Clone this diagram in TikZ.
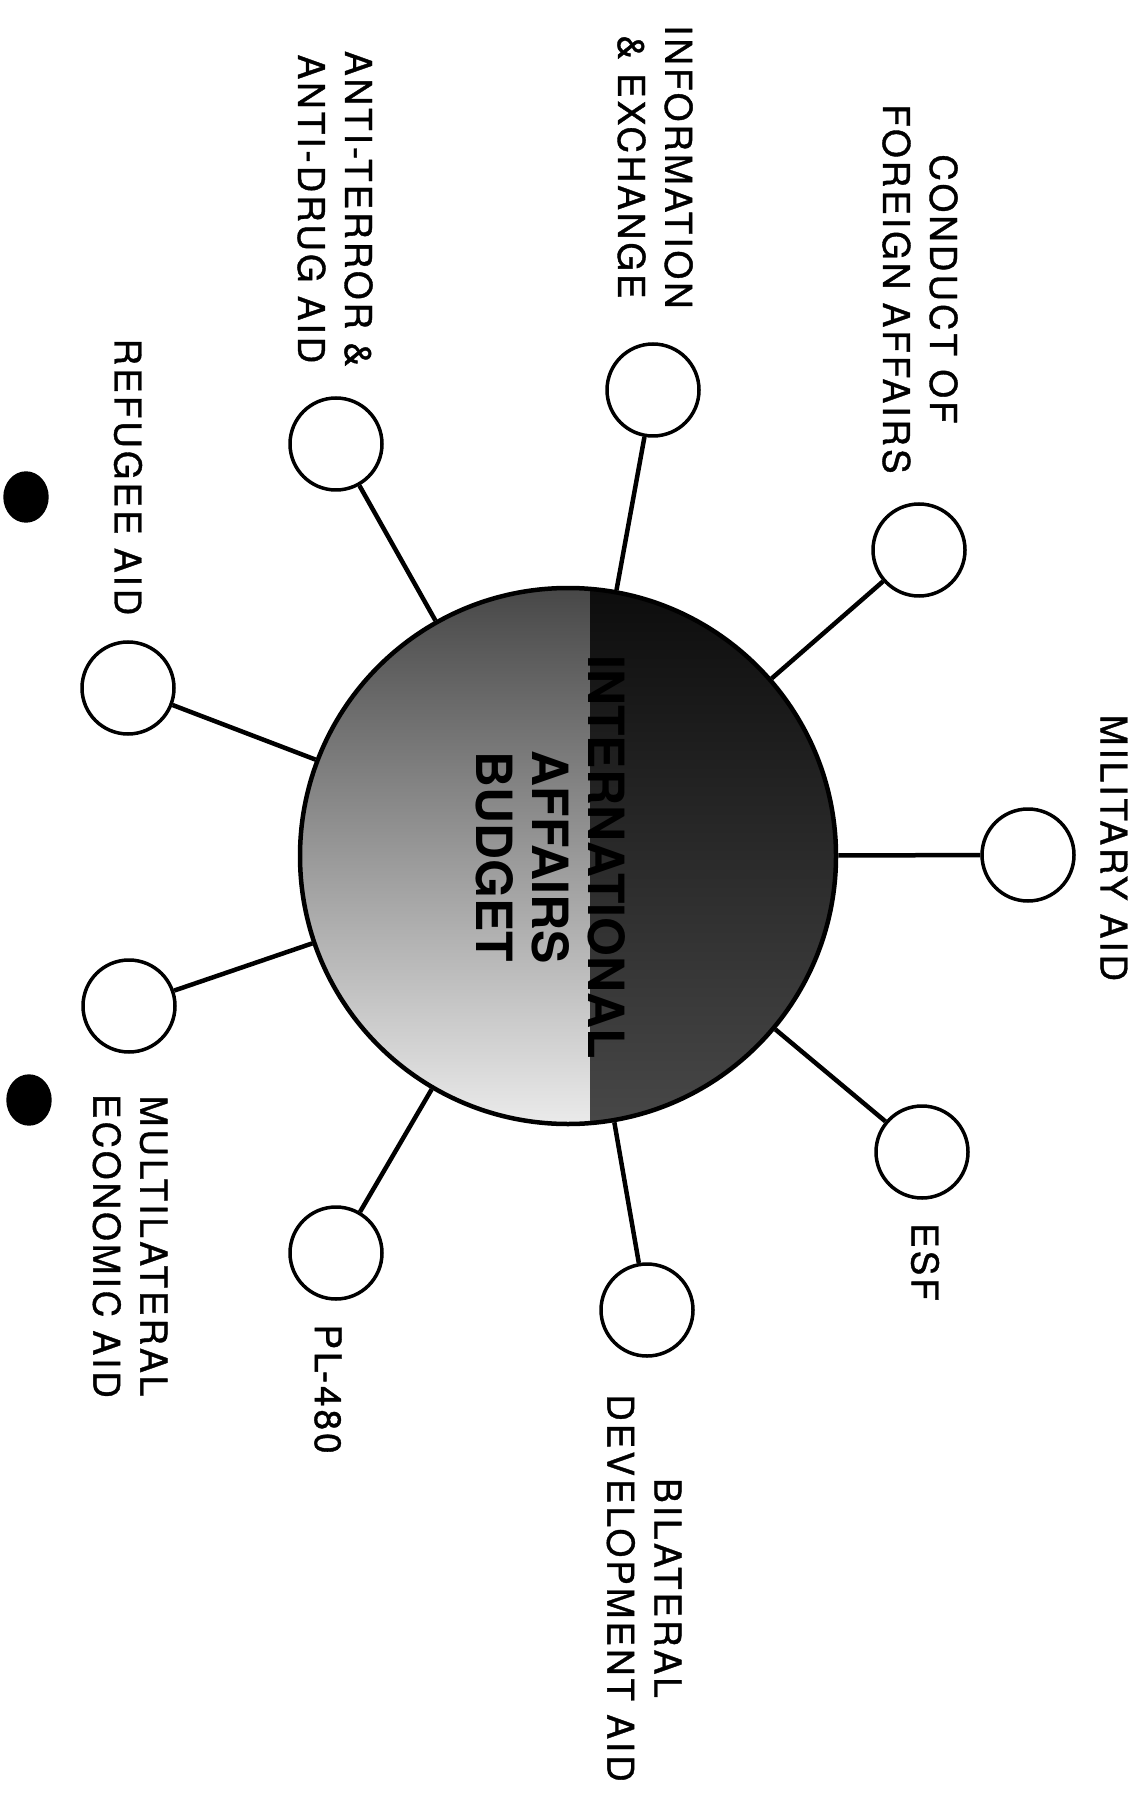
\documentclass[tikz,border=0pt]{standalone}
\usepackage{fontspec}
\setmainfont{TeX Gyre Heros}
\newfontfamily\itemfont[LetterSpace=8, FakeBold=1]{TeX Gyre Heros}
\usetikzlibrary{shapes.geometric, positioning, calc}

\begin{document}
\begin{tikzpicture}[x=0.1mm, y=-0.1mm,
    hub/.style={draw, circle, minimum size=53.6mm, inner sep=0pt, line width=0.45mm,
      path picture={
        \shade[top color=black!72, bottom color=black!8]
          (path picture bounding box.south west) rectangle (path picture bounding box.north east);
        \shade[top color=black!95, bottom color=black!72]
          ([xshift=2.2mm]path picture bounding box.south) rectangle (path picture bounding box.north east);
      }},
    spoke/.style={draw, circle, minimum size=9.2mm, inner sep=0pt, line width=0.35mm, fill=white},
    itemtext/.style={rotate=-90, align=center, inner sep=0pt, font=\itemfont\fontsize{10.5}{13.4}\selectfont},
    heading/.style={rotate=-90, align=center, inner sep=0pt, font=\bfseries\fontsize{14.2}{15.9}\selectfont},
    dot/.style={draw, fill=black, ellipse, minimum width=4.4mm, minimum height=5mm, inner sep=0pt},
    link/.style={line width=0.45mm}
  ]
    \useasboundingbox (0,0) rectangle (1144,1795);

    % Hub
    \node[hub] (budget) at (568,856) {};
    \node[heading] (title) at (551,857) {INTERNATIONAL\\AFFAIRS\\BUDGET};

    % Spokes
    \node[spoke] (military) at (1028,855) {};
    \node[spoke] (conduct) at (919,550) {};
    \node[spoke] (info) at (653,390) {};
    \node[spoke] (terror) at (336,444) {};
    \node[spoke] (refugee) at (128,688) {};
    \node[spoke] (multi) at (129,1006) {};
    \node[spoke] (pl) at (336,1253) {};
    \node[spoke] (bilateral) at (647,1310) {};
    \node[spoke] (esf) at (922,1152) {};

    % Labels
    \node[itemtext] (militarytext) at (1114,848) {MILITARY AID};
    \node[itemtext] (conducttext) at (920,289) {CONDUCT OF\\FOREIGN AFFAIRS};
    \node[itemtext] (infotext) at (655,167) {INFORMATION\\\& EXCHANGE};
    \node[itemtext] (terrortext) at (335,209) {ANTI-TERROR \&\\ANTI-DRUG AID};
    \node[itemtext] (refugeetext) at (128,477) {REFUGEE AID};
    \node[itemtext] (multitext) at (130,1246) {MULTILATERAL\\ECONOMIC AID};
    \node[itemtext] (pltext) at (328,1389) {PL-480};
    \node[itemtext] (bilateraltext) at (644,1588) {BILATERAL\\DEVELOPMENT AID};
    \node[itemtext] (esftext) at (925,1262) {ESF};

    % Bullets
    \node[dot] (bulletone) at (26,497) {};
    \node[dot] (bullettwo) at (29,1100) {};

    % Connections
    \draw[link] (budget) -- (military);
    \draw[link] (budget) -- (conduct);
    \draw[link] (budget) -- (info);
    \draw[link] (budget) -- (terror);
    \draw[link] (budget) -- (refugee);
    \draw[link] (budget) -- (multi);
    \draw[link] (budget) -- (pl);
    \draw[link] (budget) -- (bilateral);
    \draw[link] (budget) -- (esf);

  \end{tikzpicture}
\end{document}
